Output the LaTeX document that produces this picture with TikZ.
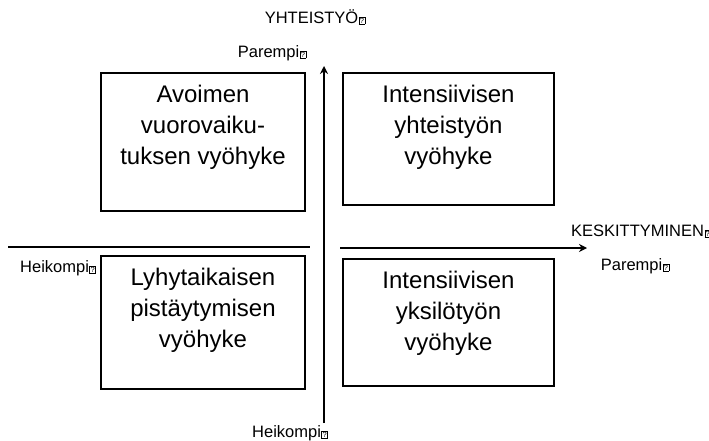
\documentclass[tikz,border=0pt]{standalone}
\usepackage{fontspec}
\setmainfont{Liberation Sans}
\usetikzlibrary{positioning,arrows.meta}
\newcommand{\qbox}{\kern0.5pt\raisebox{0pt}{\fboxsep=0.5pt\fboxrule=0.6pt\fbox{\fontsize{7.5}{7.5}\selectfont ?}}}

\begin{document}
\begin{tikzpicture}[x=1pt, y=-1pt, line width=1.5pt,
    zone/.style={rectangle, draw=black, inner sep=0pt},
    zonetext/.style={align=center, inner sep=0pt, font=\fontsize{24}{31}\selectfont},
    axislabel/.style={inner sep=0pt, font=\fontsize{16.5}{19}\selectfont},
    axis/.style={-{Stealth[length=8pt,width=8pt]}}]
	\useasboundingbox (0,0) rectangle (709,441);
	% the four zones
	\node [zone, minimum width=204pt, minimum height=138pt] (Z1) at (203,142) {};
	\node [zone, minimum width=211pt, minimum height=132pt] (Z2) at (448.5,139) {};
	\node [zone, minimum width=204pt, minimum height=133pt] (Z3) at (203,322.5) {};
	\node [zone, minimum width=211pt, minimum height=127pt] (Z4) at (448.5,322.5) {};
	\node [zonetext] (T1) [below=12pt of Z1.north] {Avoimen\\vuorovaiku-\\tuksen vyöhyke};
	\node [zonetext] (T2) [below=12pt of Z2.north] {Intensiivisen\\yhteistyön\\vyöhyke};
	\node [zonetext] (T3) [below=12pt of Z3.north] {Lyhytaikaisen\\pistäytymisen\\vyöhyke};
	\node [zonetext] (T4) [below=12pt of Z4.north] {Intensiivisen\\yksilötyön\\vyöhyke};
	% axes
	\coordinate (Ybot) at (324,423);
	\coordinate (Ytop) at (324,66);
	\coordinate (XLa) at (8,247);
	\coordinate (XLb) at (310,247);
	\coordinate (XRa) at (340,248);
	\coordinate (XRb) at (587,248);
	\draw [axis] (Ybot) -- (Ytop);
	\draw (XLa) -- (XLb);
	\draw [axis] (XRa) -- (XRb);
	% axis labels
	\node [axislabel] (Y) at (315,17) {YHTEISTYÖ\qbox};
	\node [axislabel] (YP) at (272,53) {Parempi\qbox};
	\node [axislabel] (YH) at (290,433) {Heikompi\qbox};
	\node [axislabel] (X) at (641,231) {KESKITTYMINEN\qbox};
	\node [axislabel] (XP) at (635,266) {Parempi\qbox};
	\node [axislabel] (XH) at (58,268) {Heikompi\qbox};
\end{tikzpicture}
\end{document}
